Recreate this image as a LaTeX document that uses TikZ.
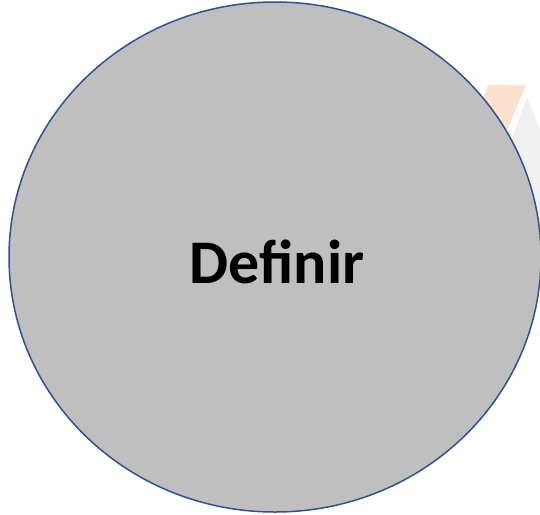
\documentclass[tikz,border=0pt]{standalone}
\usepackage{fontspec}
\setmainfont{Carlito}
\usetikzlibrary{shapes.geometric}

\definecolor{borderblue}{RGB}{47,82,143}
\definecolor{bubblegray}{RGB}{191,191,191}
\definecolor{peach}{RGB}{252,226,206}
\definecolor{lightgray}{RGB}{240,240,240}

\tikzset{
  bubble/.style={ellipse, draw=borderblue, fill=bubblegray, line width=1.5pt,
    minimum width=532pt, minimum height=510pt, inner sep=0pt,
    font=\bfseries\fontsize{62}{66}\selectfont}
}

\begin{document}
\begin{tikzpicture}[x=1pt,y=-1pt]
    \useasboundingbox (0,0) rectangle (540,514);
    % shapes behind the bubble
    \begin{scope}
        \clip (0,0) rectangle (540,514);
        \fill[lightgray] (527,97) -- (600,280) -- (460,280) -- cycle;
        \fill[peach] (488,85) -- (526,85) -- (503,140) -- (466,140) -- cycle;
    \end{scope}
    % main bubble
    \node[bubble] (definir) at (275,257) {};
    \node[font=\bfseries\fontsize{62}{66}\selectfont] (label) at (277,262) {Definir};
\end{tikzpicture}
\end{document}
